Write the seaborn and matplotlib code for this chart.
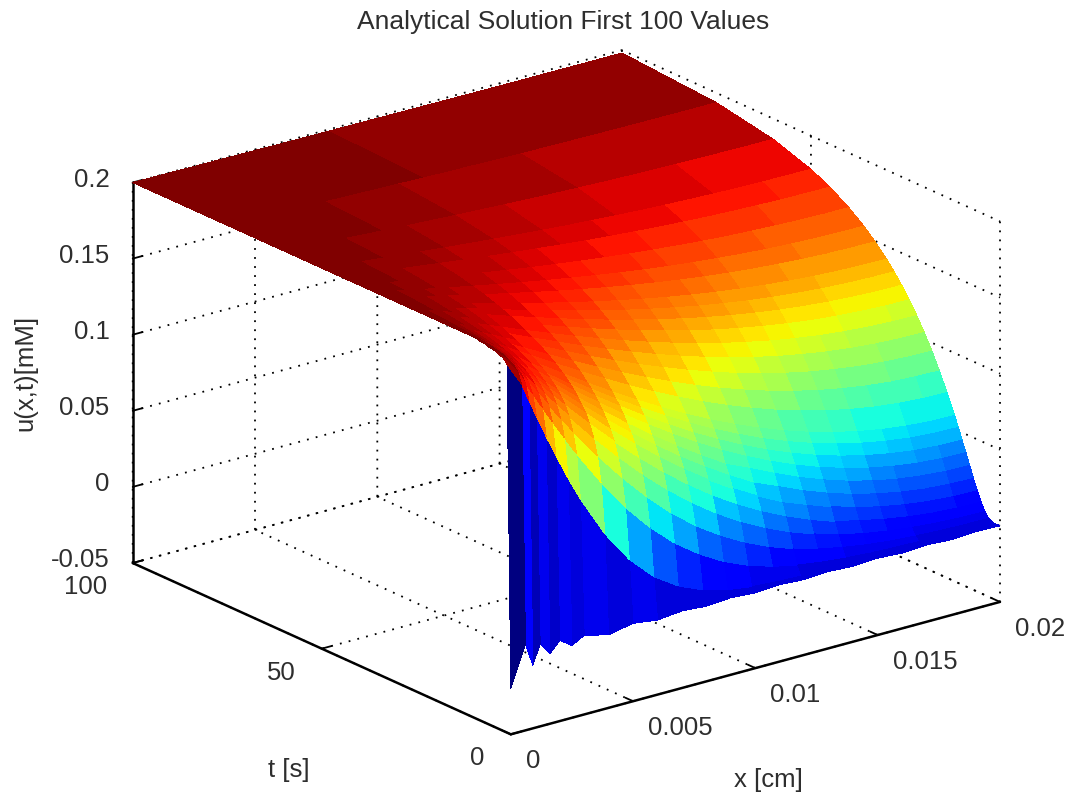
import matplotlib
matplotlib.use("Agg")
import numpy as np
import matplotlib.pyplot as plt
import seaborn as sns
from matplotlib.colors import Normalize
from mpl_toolkits.mplot3d import proj3d

# values
x_cm = [0, .0006, .0009, .0012, .0016, .002, .0025, .003, .004, .005, .006, .007, .008,
        .009, .01, .011, .012, .013, .014, .015, .016, .017, .018, .019, .02]
t_s = [0, 1, 2, 3, 4, 5, 6, 7, 8, 9, 10, 11, 12, 14, 16, 18, 20, 22, 24, 26, 28, 30,
       33, 36, 40, 45, 50, 60, 75, 100]
u_mM = [
    [-.02, .0066, -.0085, .004, -.004, .003, -.0025, .002, -.002, .0012, -.001, .0006, -.0006, .0006, -.0006, .0005, -.0005, .0005, -.0005, .0005, -.0005, .0005, -.0005, .0005, 0],
    [.192, .1762, .1642, .1526, .1376, .1232, .1062, .0904, .0632, .0420, .0264, .0159, .0090, .0048, .0024, .0012, .0005, .0002, .0001, 0, 0, 0, 0, 0, 0],
    [.195, .1831, .1746, .1664, .1555, .1446, .1316, .1190, .0958, .0750, .0576, .0430, .0315, .0222, .0153, .0103, .0067, .0043, .0027, .0016, .0009, .0005, .0003, .0001, .0001],
    [.196, .1862, .1793, .1724, .1633, .1544, .1434, .1328, .1124, .0938, .0769, .0619, .0491, .0384, .0295, .0222, .0164, .0119, .0085, .0059, .0041, .0030, .0021, .0017, .0015],
    [.197, .1880, .1820, .1762, .1682, .1604, .1507, .1413, .1231, .1062, .0904, .0761, .0632, .0518, .0420, .0336, .0264, .0206, .0159, .0120, .0095, .0074, .0060, .0052, .0049],
    [.198, .1893, .1840, .1786, .1715, .1646, .1559, .1473, .1308, .1151, .1004, .0866, .0741, .0626, .0525, .0436, .0358, .0291, .0233, .0195, .0160, .0133, .0114, .0104, .0100],
    [.198, .1902, .1853, .1804, .1739, .1675, .1596, .1518, .1366, .1218, .1078, .0947, .0826, .0714, .0612, .0521, .0440, .0378, .0319, .0271, .0231, .0201, .0180, .0167, .0163],
    [.199, .1910, .1864, .1820, .1759, .1699, .1624, .1552, .1409, .1271, .1139, .1014, .0896, .0787, .0687, .0594, .0527, .0457, .0397, .0345, .0305, .0273, .0250, .0238, .0232],
    [.199, .1915, .1873, .1831, .1775, .1719, .1649, .1581, .1446, .1316, .1190, .1070, .0957, .0850, .0750, .0679, .0603, .0533, .0473, .0421, .0379, .0346, .0325, .0311, .0306],
    [.2, .1921, .1881, .1842, .1789, .1737, .1672, .1608, .1481, .1359, .1241, .1129, .1023, .0923, .0831, .0747, .0671, .0603, .0543, .0494, .0452, .0420, .0397, .0384, .0379],
    [.2, .1926, .1888, .1850, .1801, .1751, .1690, .1629, .1510, .1393, .1282, .1175, .1073, .0978, .0890, .0809, .0735, .0669, .0612, .0563, .0522, .0491, .0468, .0455, .0450],
    [.2, .1929, .1894, .1858, .1812, .1765, .1706, .1650, .1536, .1426, .1319, .1218, .1122, .1030, .0946, .0869, .0797, .0734, .0679, .0632, .0593, .0562, .0540, .0527, .0523],
    [.2, .1933, .1899, .1866, .1821, .1777, .1722, .1667, .1560, .1455, .1354, .1257, .1165, .1078, .0997, .0923, .0855, .0794, .0741, .0696, .0658, .0628, .0607, .0594, .0590],
    [.2, .1940, .1909, .1879, .1839, .1799, .1750, .1701, .1604, .1509, .1418, .1330, .1246, .1167, .1093, .1025, .0963, .0907, .0858, .0816, .0781, .0753, .0734, .0722, .0718],
    [.2, .1945, .1918, .1891, .1854, .1818, .1773, .1729, .1641, .1555, .1472, .1393, .1317, .1245, .1178, .1116, .1060, .1009, .0965, .0926, .0895, .0870, .0852, .0842, .0838],
    [.2, .1950, .1926, .1901, .1868, .1835, .1794, .1754, .1674, .1597, .1521, .1449, .1380, .1316, .1255, .1199, .1147, .1101, .1061, .1026, .0998, .0975, .0959, .0949, .0946],
    [.2, .1955, .1933, .1910, .1880, .1851, .1814, .1777, .1705, .1635, .1566, .1501, .1439, .1380, .1325, .1274, .1227, .1186, .1149, .1118, .1092, .1071, .1057, .1048, .1045],
    [.2, .1959, .1939, .1919, .1891, .1865, .1831, .1798, .1732, .1669, .1607, .1548, .1491, .1438, .1388, .1341, .1299, .1262, .1228, .1200, .1176, .1158, .1145, .1137, .1134],
    [.2, .1963, .1945, .1926, .1902, .1877, .1847, .1817, .1757, .1700, .1644, .1590, .1539, .1490, .1445, .1403, .1365, .1331, .1301, .1275, .1253, .1237, .1225, .1217, .1215],
    [.2, .1966, .1950, .1933, .1911, .1889, .1861, .1834, .1780, .1728, .1677, .1628, .1581, .1538, .1497, .1459, .1424, .1393, .1366, .1342, .1323, .1308, .1297, .1290, .1288],
    [.2, .1970, .1954, .1939, .1919, .1899, .1874, .1849, .1800, .1753, .1707, .1662, .1620, .1580, .1543, .1509, .1477, .1449, .1424, .1403, .1386, .1372, .1362, .1356, .1354],
    [.2, .1972, .1959, .1945, .1927, .1909, .1886, .1863, .1819, .1776, .1734, .1694, .1656, .1620, .1586, .1555, .1527, .1501, .1479, .1460, .1444, .1431, .1422, .1417, .1415],
    [.2, .1976, .1964, .1952, .1937, .1921, .1901, .1882, .1844, .1807, .1771, .1736, .1703, .1672, .1643, .1616, .1591, .1569, .1550, .1533, .1520, .1509, .1501, .1497, .1495],
    [.2, .1979, .1969, .1959, .1945, .1932, .1915, .1898, .1865, .1833, .1802, .1772, .1744, .1717, .1692, .1668, .1647, .1628, .1612, .1597, .1585, .1576, .1569, .1565, .1564],
    [.2, .1983, .1975, .1966, .1955, .1944, .1930, .1916, .1889, .1863, .1837, .1812, .1789, .1767, .1746, .1727, .1710, .1694, .1680, .1668, .1659, .1651, .1645, .1642, .1641],
    [.2, .1987, .1980, .1974, .1965, .1956, .1945, .1934, .1913, .1892, .1872, .1853, .1835, .1818, .1801, .1786, .1773, .1760, .1750, .1740, .1733, .1727, .1722, .1720, .1719],
    [.2, .1990, .1984, .1979, .1972, .1966, .1957, .1949, .1932, .1916, .1900, .1885, .1871, .1857, .1844, .1833, .1822, .1812, .1804, .1797, .1791, .1786, .1783, .1781, .1780],
    [.2, .1994, .1990, .1987, .1983, .1979, .1974, .1968, .1958, .1948, .1939, .1929, .1921, .1912, .1905, .1897, .1891, .1885, .1880, .1875, .1872, .1869, .1867, .1865, .1865],
    [.2, .1997, .1995, .1994, .1992, .1990, .1988, .1985, .1980, .1976, .1971, .1967, .1962, .1958, .1955, .1951, .1948, .1945, .1943, .1941, .1939, .1938, .1937, .1936, .1936],
    [.2, .1999, .1999, .1998, .1998, .1997, .1996, .1996, .1994, .1993, .1991, .1990, .1989, .1988, .1987, .1986, .1985, .1984, .1983, .1982, .1982, .1982, .1981, .1981, .1981],
]
x_ticks = [0, .005, .01, .015, .02]
x_tick_labels = ["0", "0.005", "0.01", "0.015", "0.02"]
t_ticks = [0, 50, 100]
t_tick_labels = ["0", "50", "100"]
u_ticks = [-.05, 0, .05, .1, .15, .2]
u_tick_labels = ["-0.05", "0", "0.05", "0.1", "0.15", "0.2"]

W, H = 1071, 796
TEXT = "#2e2e2e"

sns.set_style("white")
plt.rcParams["font.family"] = ["Liberation Sans", "DejaVu Sans"]
plt.rcParams["font.size"] = 18.5
plt.rcParams["grid.color"] = "black"
plt.rcParams["grid.linewidth"] = 1.3
plt.rcParams["grid.linestyle"] = (0, (1, 4))

jet = matplotlib.colormaps["jet"].resampled(64)
X, T = np.meshgrid(x_cm, t_s)
U = np.array(u_mM)
colors = jet(Normalize(-.02, .2)(U))

fig = plt.figure(figsize=(W / 100, H / 100), dpi=100)
ax = fig.add_axes([-0.3, -0.3, 1.6, 1.6], projection="3d")
ax.set_proj_type("ortho")
ax.view_init(elev=20.5, azim=-127.7)
ax.set_xlim(0, .02)
ax.set_ylim(0, 100)
ax.set_zlim(-.05, .2)
ax.set_box_aspect((1, 1, .657))

ax.plot_surface(X, T, U, facecolors=colors, rstride=1, cstride=1, shade=False,
                linewidth=0, antialiased=False)

ax.set_xticks(x_ticks)
ax.set_yticks(t_ticks)
ax.set_zticks(u_ticks)
ax.set_xticklabels([])
ax.set_yticklabels([])
ax.set_zticklabels([])
for axis in (ax.xaxis, ax.yaxis, ax.zaxis):
    axis.set_pane_color((1, 1, 1, 1))
    axis.pane.set_edgecolor("white")
    axis.line.set_color("black")
    axis.line.set_linewidth(1.8)
    axis._axinfo["tick"].update(inward_factor=0.0, outward_factor=0.25,
                                linewidth={True: 1.3, False: 1.0}, color="black")
    for tick in axis.get_major_ticks():
        tick.tick1line.set_visible(True)
        tick.tick1line.set_color("black")
ax.grid(True)


def to_px(x, t, z):
    # data point -> picture pixel, y counted from the top
    px, py, _ = proj3d.proj_transform(x, t, z, ax.get_proj())
    dx, dy = ax.transData.transform((px, py))
    return dx, H - dy


# fit the box onto the corners seen in the reference
ax.apply_aspect()
left, right = to_px(0, 100, -.05), to_px(.02, 0, -.05)
ax.set_box_aspect((1, 1, .657), zoom=(1000 - 132.7) / (right[0] - left[0]))
left = to_px(0, 100, -.05)
pos = ax.get_position(original=True)
ax.set_position([pos.x0 + (132.7 - left[0]) / W, pos.y0 - (563 - left[1]) / H, pos.width, pos.height])
ax.apply_aspect()


def label(px, py, text, ha="center", **kw):
    fig.text(px / W, 1 - py / H, text, ha=ha, va="center", color=TEXT, **kw)


for z, s in zip(u_ticks, u_tick_labels):
    px, py = to_px(0, 100, z)
    label(px - 23, py - 3, s, ha="right")
for t, s in zip(t_ticks, t_tick_labels):
    px, py = to_px(0, t, -.05)
    label(px - 26, py + 24, s, ha="right")
for x, s in zip(x_ticks, x_tick_labels):
    px, py = to_px(x, 0, -.05)
    label(px + 15, py + 27, s, ha="left")

label(563, 22, "Analytical Solution First 100 Values", fontsize=19)
label(768, 780, "x [cm]")
label(289, 770, "t [s]")
label(25, 373, "u(x,t)[mM]", rotation=90)

fig.savefig("out.png", dpi=100)
